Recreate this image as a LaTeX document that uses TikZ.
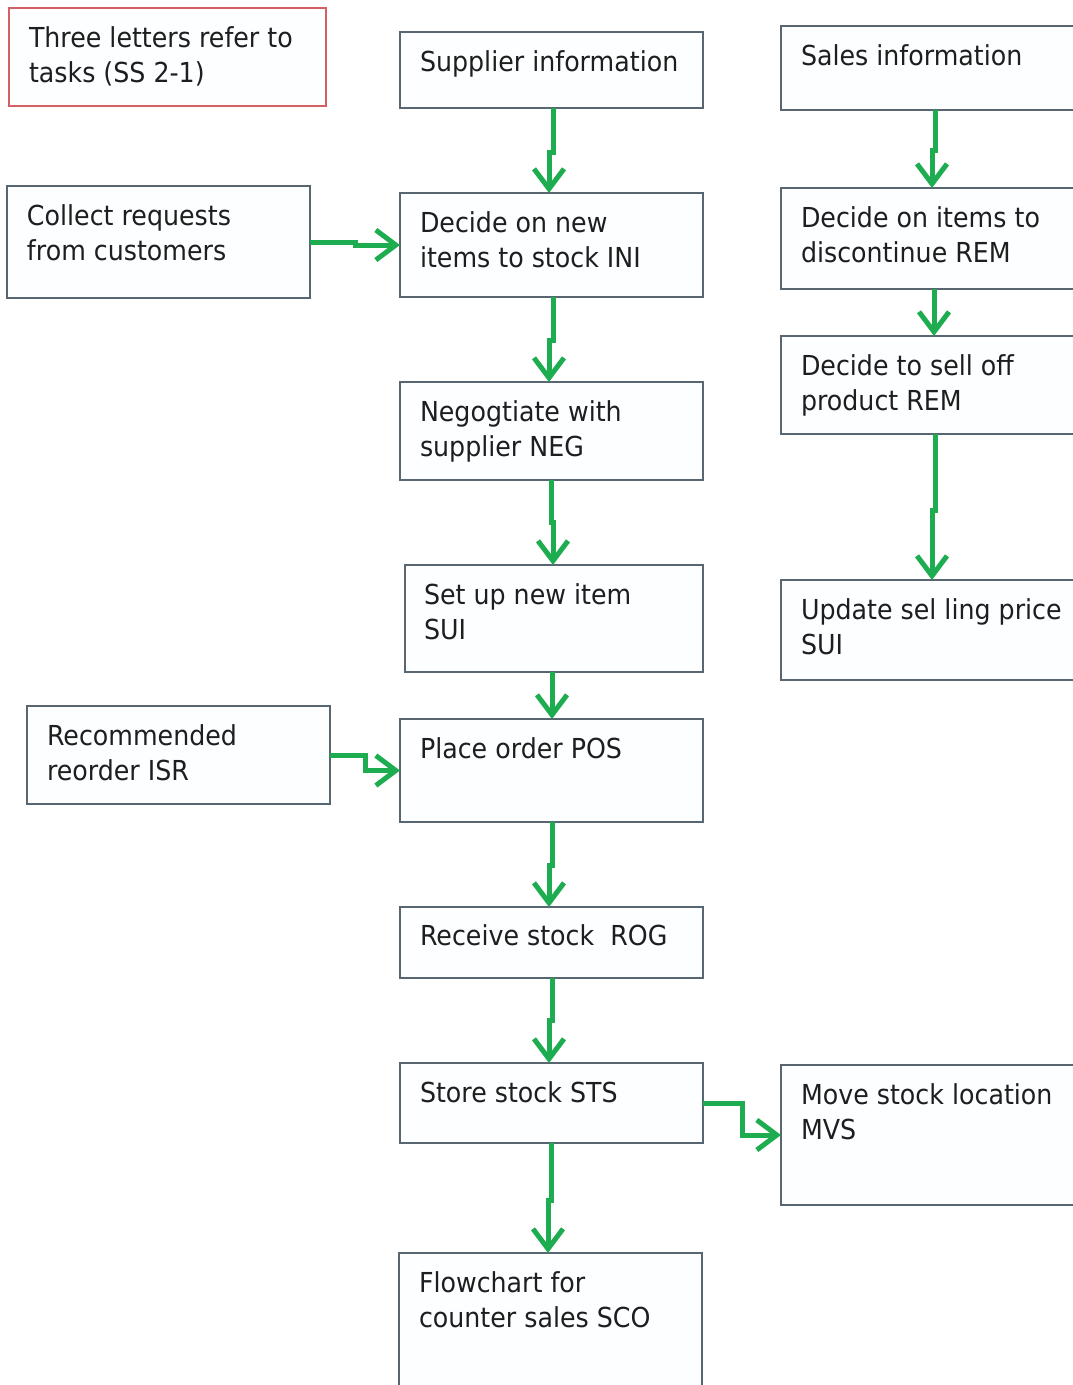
\documentclass[tikz,border=0pt]{standalone}
\usepackage{fontspec}
\setmainfont[FakeStretch=0.92]{DejaVu Sans}
\usetikzlibrary{arrows.meta}
\definecolor{boxline}{RGB}{88,102,114}
\definecolor{legendline}{RGB}{212,96,100}
\definecolor{flow}{RGB}{30,172,80}
\definecolor{boxfill}{RGB}{252,254,255}
\definecolor{ink}{RGB}{30,30,30}
\begin{document}
\begin{tikzpicture}[x=1pt,y=-1pt,
  box/.style={draw=boxline, line width=2pt, fill=boxfill, inner sep=0pt, outer sep=0pt, anchor=north west},
  legendbox/.style={box, draw=legendline},
  txt/.style={inner sep=0pt, outer sep=0pt, anchor=north west, align=left, text=ink,
    font=\fontsize{27.5}{35}\selectfont},
  arr/.style={draw=flow, line width=5pt, -{Straight Barb[length=20pt,width=30pt]}}]
\clip (0,0) rectangle (1073,1385);
\useasboundingbox (0,0) rectangle (1073,1385);

% boxes
\node[legendbox, minimum width=317pt, minimum height=98pt] (leg) at (9,8) {};
\node[box, minimum width=303pt, minimum height=76pt] (sup) at (400,32) {};
\node[box, minimum width=300pt, minimum height=84pt] (sales) at (781,26) {};
\node[box, minimum width=303pt, minimum height=112pt] (coll) at (7,186) {};
\node[box, minimum width=303pt, minimum height=104pt] (dni) at (400,193) {};
\node[box, minimum width=300pt, minimum height=101pt] (disc) at (781,188) {};
\node[box, minimum width=303pt, minimum height=98pt] (neg) at (400,382) {};
\node[box, minimum width=300pt, minimum height=98pt] (sell) at (781,336) {};
\node[box, minimum width=298pt, minimum height=107pt] (sui) at (405,565) {};
\node[box, minimum width=300pt, minimum height=100pt] (upd) at (781,580) {};
\node[box, minimum width=303pt, minimum height=98pt] (rec) at (27,706) {};
\node[box, minimum width=303pt, minimum height=103pt] (pos) at (400,719) {};
\node[box, minimum width=303pt, minimum height=71pt] (rog) at (400,907) {};
\node[box, minimum width=303pt, minimum height=80pt] (sts) at (400,1063) {};
\node[box, minimum width=300pt, minimum height=140pt] (mvs) at (781,1065) {};
\node[box, minimum width=303pt, minimum height=150pt] (sco) at (399,1253) {};

% texts
\def\st{\rule{0pt}{24pt}}
\node[txt] (legt) at ([shift={(20,15)}]leg.north west) {\st Three letters refer to\\tasks (SS 2-1)};
\node[txt] (supt) at ([shift={(20,15)}]sup.north west) {\st Supplier information};
\node[txt] (salest) at ([shift={(20,15)}]sales.north west) {\st Sales information};
\node[txt] (collt) at ([shift={(20,15)}]coll.north west) {\st Collect requests\\from customers};
\node[txt] (dnit) at ([shift={(20,15)}]dni.north west) {\st Decide on new\\items to stock INI};
\node[txt] (disct) at ([shift={(20,15)}]disc.north west) {\st Decide on items to\\discontinue REM};
\node[txt] (negt) at ([shift={(20,15)}]neg.north west) {\st Negogtiate with\\supplier NEG};
\node[txt] (sellt) at ([shift={(20,15)}]sell.north west) {\st Decide to sell off\\product REM};
\node[txt] (suit) at ([shift={(19,15)}]sui.north west) {\st Set up new item\\SUI};
\node[txt] (updt) at ([shift={(20,15)}]upd.north west) {\st Update sel ling price\\SUI};
\node[txt] (rect) at ([shift={(20,15)}]rec.north west) {\st Recommended\\reorder ISR};
\node[txt] (post) at ([shift={(20,15)}]pos.north west) {\st Place order POS};
\node[txt] (rogt) at ([shift={(20,14)}]rog.north west) {\st Receive stock\ \ ROG};
\node[txt] (stst) at ([shift={(20,15)}]sts.north west) {\st Store stock STS};
\node[txt] (mvst) at ([shift={(20,15)}]mvs.north west) {\st Move stock location\\MVS};
\node[txt] (scot) at ([shift={(20,15)}]sco.north west) {\st Flowchart for\\counter sales SCO};

% connectors
\draw[arr] ([xshift=153pt]sup.south west) -- ++(0,44) -| ([xshift=149pt]dni.north west);
\draw[arr] (coll.east) -- ++(45,0) |- (dni.west);
\draw[arr] ([xshift=153pt]dni.south west) -- ++(0,43) -| ([xshift=149pt]neg.north west);
\draw[arr] ([xshift=151pt]neg.south west) -- ++(0,42) -| ([xshift=148pt]sui.north west);
\draw[arr] ([xshift=147pt]sui.south west) -- ([xshift=152pt]pos.north west);
\draw[arr] (rec.east) -- ++(35,0) |- (pos.west);
\draw[arr] ([xshift=152pt]pos.south west) -- ++(0,43) -| ([xshift=149pt]rog.north west);
\draw[arr] ([xshift=152pt]rog.south west) -- ++(0,42) -| ([xshift=149pt]sts.north west);
\draw[arr] ([xshift=151pt]sts.south west) -- ++(0,57) -| ([xshift=149pt]sco.north west);
\draw[arr] (sts.east) -- ++(39,0) |- (mvs.west);
\draw[arr] ([xshift=154pt]sales.south west) -- ++(0,40) -| ([xshift=151pt]disc.north west);
\draw[arr] ([xshift=153pt]disc.south west) -- ([xshift=153pt]sell.north west);
\draw[arr] ([xshift=154pt]sell.south west) -- ++(0,76) -| ([xshift=151pt]upd.north west);
\end{tikzpicture}
\end{document}
